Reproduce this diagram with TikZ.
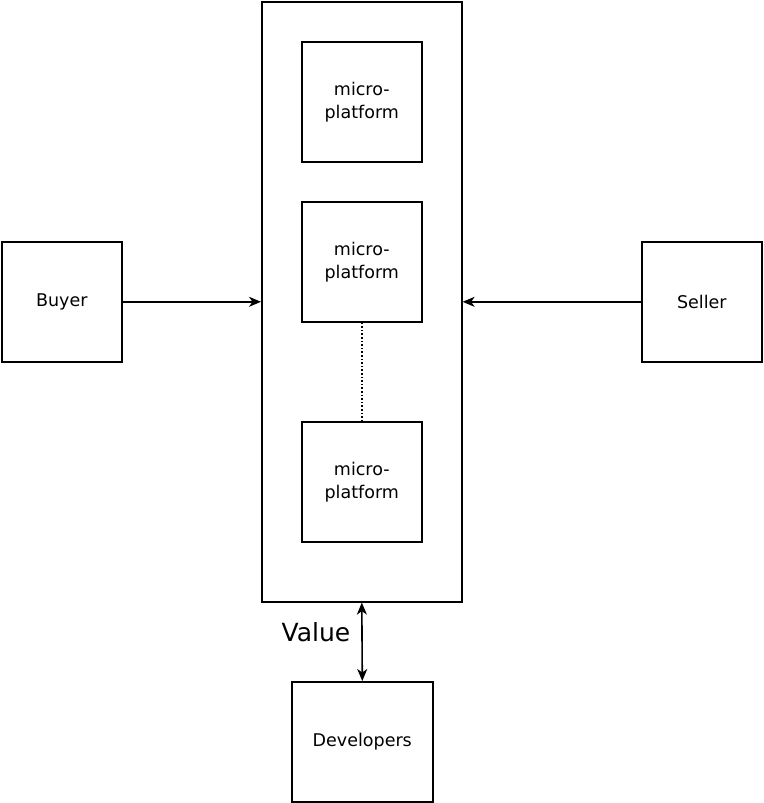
\documentclass[tikz,border=0pt]{standalone}
\usepackage{fontspec}
\setmainfont{DejaVu Sans}
\usetikzlibrary{arrows.meta}
\begin{document}
\begin{tikzpicture}[x=1pt,y=-1pt,
  box/.style={draw,line width=1.6pt,inner sep=0pt,anchor=north west,font=\fontsize{17.5}{23}\selectfont,align=center},
  conn/.style={line width=1.6pt,-{Stealth[length=12pt,width=10pt,inset=3.5pt]}},
  dconn/.style={line width=1.6pt,{Stealth[length=12pt,width=10pt,inset=3.5pt]}-{Stealth[length=12pt,width=10pt,inset=3.5pt]}}]
\useasboundingbox (0,0) rectangle (763,803);
\node[box,minimum width=200pt,minimum height=600pt] (main) at (261,1) {};
\node[box,minimum width=120pt,minimum height=120pt] (mp1) at (301,41) {micro-\\platform};
\node[box,minimum width=120pt,minimum height=120pt] (mp2) at (301,201) {micro-\\platform};
\node[box,minimum width=120pt,minimum height=120pt] (mp3) at (301,421) {micro-\\platform};
\node[box,minimum width=120pt,minimum height=120pt] (buyer) at (1,241) {Buyer};
\node[box,minimum width=120pt,minimum height=120pt] (seller) at (641,241) {Seller};
\node[box,minimum width=141pt,minimum height=120pt] (dev) at (291,681) {Developers};
\draw[line width=1.6pt,dotted] (mp2.south) -- (mp3.north);
\draw[conn] (buyer.east) -- (main.west);
\draw[conn] (seller.west) -- (main.east);
\draw[dconn] (main.south) -- (dev.north);
\node[font=\fontsize{25}{30}\selectfont,inner sep=0pt] (vlabel) at (316,632) {Value};
\end{tikzpicture}
\end{document}
